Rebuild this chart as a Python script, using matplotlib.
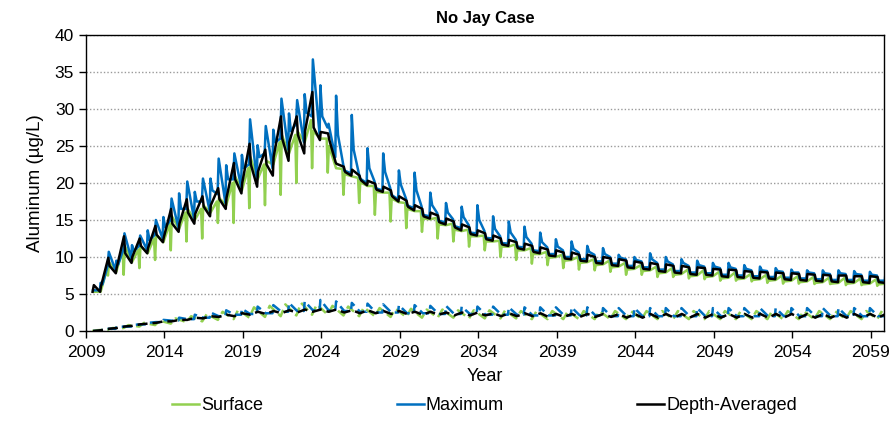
import numpy as np
import matplotlib
matplotlib.use('Agg')
import matplotlib.pyplot as plt

plt.rcParams['font.family'] = ['Liberation Sans', 'DejaVu Sans']

##### Simulation years (one row of values per year)
years = np.arange(2009, 2060)

##### Depth-Averaged, solid (values near y+0.42, y+0.50, y+0.90, y+0.95)
dep_hi = [5.3, 9.9, 12.8, 12.5, 14.2, 16.5, 17.8, 18.2, 19.3, 22.7,
          25.3, 24.5, 29.0, 29.0, 32.3, 26.7, 22.2, 21.0, 19.9, 19.0,
          17.6, 16.5, 15.6, 14.8, 14.0, 13.2, 12.5, 12.0, 11.5, 11.0,
          10.6, 10.3, 10.0, 9.8, 9.5, 9.2, 9.0, 8.8, 8.6, 8.5,
          8.3, 8.2, 8.0, 7.9, 7.8, 7.7, 7.6, 7.5, 7.5, 7.4, 7.3]
dep_lo = [6.2, 8.8, 10.5, 11.5, 13.0, 14.5, 16.0, 16.8, 17.8, 20.5,
          22.5, 22.5, 26.0, 26.5, 27.5, 25.8, 21.5, 20.4, 19.1, 18.2,
          16.8, 15.5, 14.7, 14.0, 13.1, 12.4, 11.7, 11.2, 10.7, 10.2,
          9.8, 9.5, 9.2, 8.9, 8.6, 8.4, 8.1, 7.9, 7.7, 7.6,
          7.4, 7.3, 7.2, 7.1, 7.0, 6.9, 6.8, 6.7, 6.7, 6.6, 6.6]
dep_lo2 = [5.3, 7.8, 9.2, 10.5, 12.0, 13.4, 14.5, 15.5, 16.5, 18.6,
           19.5, 21.0, 23.0, 24.0, 25.8, 22.8, 21.0, 19.7, 18.8, 17.5,
           16.3, 15.2, 14.4, 13.6, 12.9, 12.2, 11.5, 11.0, 10.5, 10.1,
           9.7, 9.4, 9.1, 8.8, 8.5, 8.3, 8.0, 7.8, 7.6, 7.5,
           7.3, 7.2, 7.1, 7.0, 6.9, 6.8, 6.7, 6.6, 6.6, 6.5, 6.5]
dep_hi2 = [6.0, 8.5, 10.0, 11.2, 12.6, 14.5, 15.8, 17.0, 18.0, 20.0,
           21.5, 23.5, 25.5, 27.0, 26.9, 22.6, 21.8, 20.3, 19.5, 18.2,
           17.0, 16.0, 15.2, 14.4, 13.6, 12.9, 12.3, 11.8, 11.3, 10.9,
           10.6, 10.3, 10.0, 9.7, 9.4, 9.2, 9.0, 8.8, 8.6, 8.4,
           8.3, 8.1, 8.0, 7.9, 7.8, 7.7, 7.6, 7.5, 7.4, 7.4, 7.3]

##### Maximum, solid (values near y+0.05, y+0.38, y+0.45, y+0.88, y+0.93)
max_dec = [np.nan, 6.3, 9.0, 10.8, 12.3, 14.0, 16.5, 17.5, 19.0, 20.5,
           22.0, 23.5, 25.5, 27.0, 29.5, 29.0, 26.5, 24.5, 22.0, 21.5,
           19.8, 19.0, 17.0, 16.0, 15.4, 15.0, 13.8, 13.3, 12.7, 12.0,
           11.4, 11.1, 10.7, 10.4, 9.9, 9.6, 9.7, 9.4, 9.2, 8.9,
           8.7, 8.6, 8.4, 8.2, 8.1, 7.9, 7.9, 7.8, 7.8, 7.7, 7.6]
max_pre = [np.nan, 8.8, 11.0, 11.5, 13.0, 15.0, 16.5, 17.5, 18.5, 20.5,
           22.5, 24.0, 26.0, 28.0, 29.0, 27.5, 22.5, 21.3, 20.2, 19.3,
           17.9, 16.8, 15.9, 15.1, 14.3, 13.5, 12.8, 12.3, 11.8, 11.3,
           10.9, 10.6, 10.3, 10.0, 9.7, 9.4, 9.2, 9.0, 8.8, 8.7,
           8.5, 8.4, 8.2, 8.1, 8.0, 7.9, 7.8, 7.7, 7.7, 7.6, 7.5]
max_pk = [5.5, 10.7, 13.2, 12.9, 15.0, 17.9, 20.2, 20.6, 23.3, 24.0,
          28.6, 27.7, 31.4, 31.2, 36.7, 28.0, 21.7, 20.6, 19.3, 18.4,
          17.0, 15.7, 14.9, 14.2, 13.3, 12.6, 11.9, 11.4, 10.9, 10.4,
          10.0, 9.7, 9.4, 9.1, 8.8, 8.6, 8.3, 8.1, 7.9, 7.8,
          7.6, 7.5, 7.4, 7.3, 7.2, 7.1, 7.0, 6.9, 6.9, 6.8, 6.8]
max_base = [5.5, 8.2, 9.8, 11.0, 12.5, 14.0, 15.2, 16.2, 17.3, 19.5,
            20.5, 22.0, 24.5, 25.5, 26.5, 23.5, 21.3, 20.0, 19.0, 17.8,
            16.6, 15.5, 14.7, 13.9, 13.2, 12.5, 11.8, 11.3, 10.8, 10.4,
            10.0, 9.7, 9.4, 9.1, 8.8, 8.6, 8.3, 8.1, 7.9, 7.8,
            7.6, 7.5, 7.4, 7.3, 7.2, 7.1, 7.0, 6.9, 6.9, 6.8, 6.8]
max_sp = [6.5, 9.5, 11.6, 13.6, 15.4, 18.6, 18.8, 20.6, 22.4, 23.8,
          25.1, 27.2, 29.4, 32.0, 33.2, 31.8, 29.2, 24.7, 24.0, 21.7,
          21.4, 18.7, 17.3, 16.8, 17.0, 15.5, 14.8, 14.1, 13.3, 12.4,
          12.1, 11.5, 11.2, 10.3, 10.0, 10.5, 10.0, 9.7, 9.5, 9.2,
          9.2, 8.9, 8.7, 8.5, 8.3, 8.2, 8.2, 8.2, 8.1, 8.0, 8.0]

##### Surface, solid (values near y+0.33, y+0.40, y+0.47, y+0.93)
sur_pre = [np.nan, 8.3, 11.0, 11.0, 12.5, 14.5, 16.0, 16.5, 17.5, 20.0,
           22.0, 22.5, 25.5, 26.5, 28.5, 26.0, 21.9, 20.7, 19.6, 18.7,
           17.3, 16.2, 15.3, 14.5, 13.7, 12.9, 12.2, 11.7, 11.2, 10.7,
           10.3, 10.0, 9.7, 9.5, 9.2, 8.9, 8.7, 8.5, 8.3, 8.2,
           8.0, 7.9, 7.7, 7.6, 7.5, 7.4, 7.3, 7.2, 7.2, 7.1, 7.0]
sur_dip = [np.nan, 7.5, 7.6, 8.5, 9.6, 10.9, 12.1, 12.5, 14.6, 14.6,
           16.6, 17.0, 18.4, 20.0, 22.0, 21.4, 18.4, 17.3, 15.7, 14.8,
           13.9, 13.4, 12.5, 12.1, 11.4, 10.9, 10.0, 9.6, 9.1, 8.9,
           8.5, 8.3, 8.2, 8.0, 7.6, 7.6, 7.3, 7.3, 7.1, 7.0,
           6.8, 6.8, 6.7, 6.5, 6.4, 6.4, 6.35, 6.35, 6.2, 6.2, 6.1]
sur_post = [5.3, 9.3, 11.5, 11.5, 13.0, 15.5, 16.5, 17.0, 18.0, 21.0,
            23.5, 23.0, 26.5, 27.0, 27.0, 25.0, 21.2, 20.1, 18.8, 17.9,
            16.5, 15.2, 14.4, 13.7, 12.8, 12.1, 11.4, 10.9, 10.4, 9.9,
            9.5, 9.2, 8.9, 8.6, 8.3, 8.1, 7.8, 7.6, 7.4, 7.3,
            7.1, 7.0, 6.9, 6.8, 6.7, 6.6, 6.5, 6.4, 6.4, 6.3, 6.3]
sur_end = [5.3, 8.0, 9.3, 10.5, 12.0, 13.8, 15.0, 16.0, 17.0, 19.0,
           20.5, 22.5, 24.0, 25.5, 26.0, 22.0, 20.9, 19.6, 18.7, 17.4,
           16.2, 15.1, 14.3, 13.5, 12.8, 12.1, 11.4, 10.9, 10.4, 10.0,
           9.6, 9.3, 9.0, 8.7, 8.4, 8.2, 7.9, 7.7, 7.5, 7.4,
           7.2, 7.1, 7.0, 6.9, 6.8, 6.7, 6.6, 6.5, 6.5, 6.4, 6.4]

##### Dashed (second case) - Depth-Averaged (y+0.45 low, y+0.95 high)
dep_d_lo = [0.0, 0.3, 0.6, 0.9, 1.1, 1.3, 1.5, 1.7, 1.9, 2.0,
            2.2, 2.3, 2.4, 2.5, 2.6, 2.6, 2.5, 2.4, 2.4, 2.3,
            2.3, 2.2, 2.2, 2.1, 2.1, 2.1, 2.0, 2.0, 2.0, 1.9,
            1.9, 1.9, 1.9, 1.9, 1.8, 1.8, 1.8, 1.8, 1.8, 1.8,
            1.8, 1.8, 1.8, 1.8, 1.8, 1.8, 1.8, 1.8, 1.8, 1.8, 1.8]
dep_d_hi = [0.1, 0.4, 0.7, 1.0, 1.3, 1.5, 1.8, 2.0, 2.2, 2.4,
            2.6, 2.7, 2.8, 2.9, 2.9, 2.9, 2.8, 2.8, 2.7, 2.7,
            2.6, 2.6, 2.5, 2.5, 2.5, 2.4, 2.4, 2.4, 2.4, 2.3,
            2.3, 2.3, 2.3, 2.3, 2.3, 2.3, 2.3, 2.3, 2.3, 2.3,
            2.3, 2.3, 2.3, 2.3, 2.3, 2.3, 2.3, 2.3, 2.3, 2.3, 2.3]
# Maximum dashed (y+0.45 base, y+0.93 spike)
max_d_base = [0.0, 0.3, 0.6, 0.9, 1.2, 1.4, 1.6, 1.8, 2.0, 2.2,
              2.3, 2.4, 2.6, 2.7, 2.8, 2.8, 2.7, 2.6, 2.5, 2.5,
              2.4, 2.4, 2.3, 2.3, 2.3, 2.2, 2.2, 2.2, 2.1, 2.1,
              2.1, 2.1, 2.1, 2.0, 2.0, 2.0, 2.0, 2.0, 2.0, 2.0,
              2.0, 2.0, 2.0, 2.0, 2.0, 2.0, 2.0, 2.0, 2.0, 2.0, 2.0]
max_d_sp = [0.1, 0.5, 0.8, 1.1, 1.5, 1.8, 2.2, 2.5, 2.8, 3.0,
            3.3, 3.5, 3.8, 4.0, 4.2, 4.0, 3.8, 3.7, 3.6, 3.5,
            3.5, 3.4, 3.4, 3.3, 3.3, 3.3, 3.2, 3.2, 3.2, 3.2,
            3.2, 3.2, 3.1, 3.1, 3.1, 3.1, 3.1, 3.1, 3.1, 3.1,
            3.1, 3.1, 3.1, 3.1, 3.1, 3.1, 3.1, 3.1, 3.1, 3.1, 3.1]
# Surface dashed (y+0.40 dip, y+0.70 bump)
sur_d_dip = [0.0, 0.2, 0.4, 0.6, 0.8, 1.0, 1.2, 1.3, 1.5, 1.6,
             1.8, 1.9, 2.0, 2.1, 2.2, 2.2, 2.1, 2.0, 2.0, 1.9,
             1.9, 1.8, 1.8, 1.8, 1.7, 1.7, 1.7, 1.7, 1.6, 1.6,
             1.6, 1.6, 1.6, 1.6, 1.6, 1.6, 1.6, 1.6, 1.6, 1.6,
             1.6, 1.6, 1.6, 1.6, 1.6, 1.6, 1.6, 1.6, 1.6, 1.6, 1.6]
sur_d_bump = [0.1, 0.4, 0.8, 1.1, 1.4, 1.7, 2.0, 2.3, 2.6, 2.9,
              3.2, 3.4, 3.6, 3.8, 3.6, 3.4, 3.3, 3.2, 3.1, 3.0,
              3.0, 2.9, 2.9, 2.8, 2.8, 2.8, 2.8, 2.7, 2.7, 2.7,
              2.7, 2.7, 2.7, 2.7, 2.7, 2.7, 2.7, 2.7, 2.7, 2.7,
              2.7, 2.7, 2.7, 2.7, 2.7, 2.7, 2.7, 2.7, 2.7, 2.7, 2.7]

x_ticks = np.arange(2009, 2060, 5)
y_ticks = np.arange(0, 41, 5)

c_sur = '#92D050'
c_max = '#0070C0'
c_dep = '#000000'


def series(offsets, *cols):
    # place each year's readings at their time within the year
    t = (years[:, None] + np.array(offsets)[None, :]).ravel()
    v = np.column_stack(cols).ravel()
    return t, v


fig = plt.figure(figsize=(8.89, 4.21), dpi=100)
ax = fig.add_axes([86/889, 1-331/421, 798/889, 296/421])

dash = (0, (4, 2))
ax.plot(*series([0.40, 0.70], sur_d_dip, sur_d_bump), color=c_sur, lw=1.8, ls=dash)
ax.plot(*series([0.45, 0.88, 0.93], max_d_base, max_d_base, max_d_sp), color=c_max, lw=1.8, ls=dash)
ax.plot(*series([0.45, 0.95], dep_d_lo, dep_d_hi), color=c_dep, lw=1.8, ls=dash)

ax.plot(*series([0.33, 0.40, 0.47, 0.93], sur_pre, sur_dip, sur_post, sur_end),
        color=c_sur, lw=1.8, label='Surface')
ax.plot(*series([0.05, 0.38, 0.45, 0.88, 0.93], max_dec, max_pre, max_pk, max_base, max_sp),
        color=c_max, lw=1.8, label='Maximum')
ax.plot(*series([0.42, 0.50, 0.90, 0.95], dep_hi, dep_lo, dep_lo2, dep_hi2),
        color=c_dep, lw=1.8, label='Depth-Averaged')

ax.set_xlim(2009, 2059.83)
ax.set_ylim(0, 40)
ax.set_xticks(x_ticks)
ax.set_yticks(y_ticks)
ax.tick_params(axis='both', direction='out', length=5, width=1, labelsize=12.5)
ax.tick_params(axis='x', pad=5)
ax.yaxis.grid(True, color='#9a9a9a', linestyle=(0, (1, 1.5)), linewidth=1)
ax.set_axisbelow(True)
for s in ax.spines.values():
    s.set_linewidth(1.0)

ax.set_xlabel('Year', fontsize=13, labelpad=6)
ax.set_ylabel('Aluminum (\u00b5g/L)', fontsize=13.5, labelpad=8)
ax.set_title('No Jay Case', fontsize=12, fontweight='bold', pad=9)

fig.legend(loc='center', bbox_to_anchor=(0.545, 0.036), ncol=3, frameon=False,
           fontsize=13, handlelength=1.5, handletextpad=0.1, columnspacing=7.4)

fig.savefig('out.png', dpi=100)
